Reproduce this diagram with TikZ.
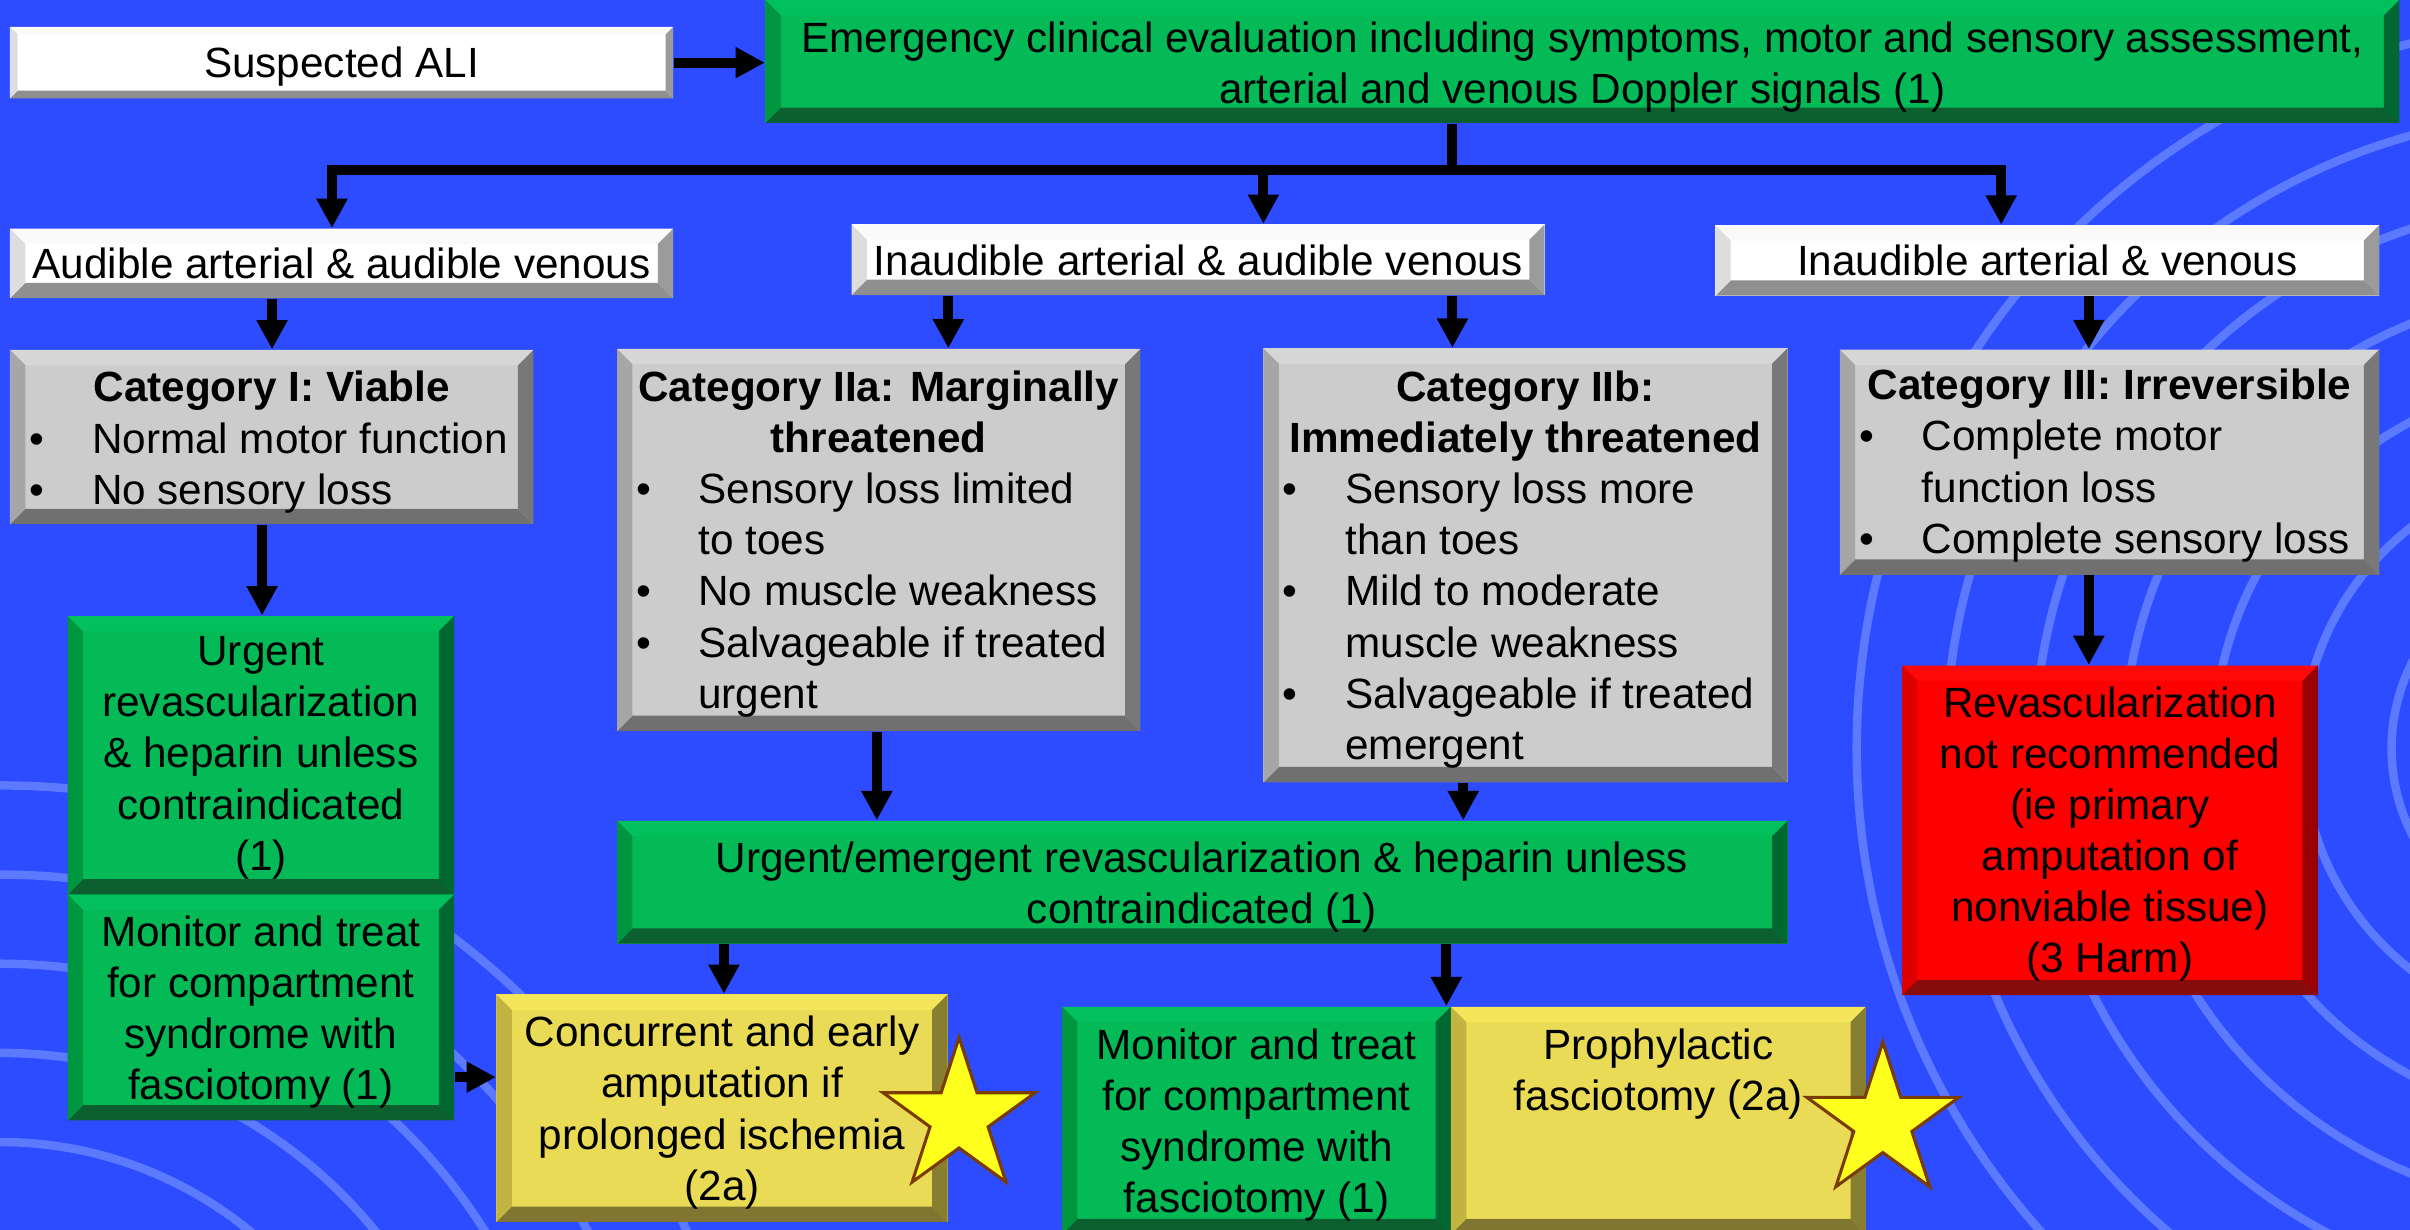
\documentclass[tikz,border=0pt]{standalone}
\usepackage{fontspec}
\setmainfont{Liberation Sans}
\usetikzlibrary{arrows.meta,shapes.geometric,fit}

\definecolor{bgblue}{RGB}{45,75,255}
\definecolor{arcblue}{RGB}{92,122,255}
\definecolor{whface}{RGB}{255,255,255}
\definecolor{whtop}{RGB}{250,250,250}
\definecolor{whleft}{RGB}{221,221,221}
\definecolor{whright}{RGB}{155,155,155}
\definecolor{whbot}{RGB}{143,143,143}
\definecolor{gyface}{RGB}{204,204,204}
\definecolor{gytop}{RGB}{214,214,214}
\definecolor{gyleft}{RGB}{166,166,166}
\definecolor{gyright}{RGB}{120,120,120}
\definecolor{gybot}{RGB}{112,112,112}
\definecolor{gnface}{RGB}{4,186,86}
\definecolor{gntop}{RGB}{2,193,92}
\definecolor{gnleft}{RGB}{0,150,64}
\definecolor{gnright}{RGB}{0,104,48}
\definecolor{gnbot}{RGB}{12,96,48}
\definecolor{ylface}{RGB}{233,219,85}
\definecolor{yltop}{RGB}{244,229,90}
\definecolor{ylleft}{RGB}{194,180,64}
\definecolor{ylright}{RGB}{136,126,48}
\definecolor{ylbot}{RGB}{128,118,50}
\definecolor{rdface}{RGB}{255,0,0}
\definecolor{rdtop}{RGB}{255,8,8}
\definecolor{rdleft}{RGB}{221,0,0}
\definecolor{rdright}{RGB}{153,0,0}
\definecolor{rdbot}{RGB}{136,12,12}
\definecolor{starfill}{RGB}{255,255,30}
\definecolor{starline}{RGB}{122,60,0}

% bevelled box: [bevel]{name}{x1}{y1}{x2}{y2}{colour prefix}
\newcommand\bbox[7][10]{%
  \fill[#7face] (#3,#4) rectangle (#5,#6);
  \fill[#7top] (#3,#4) -- (#5,#4) -- (#5-#1,#4+#1) -- (#3+#1,#4+#1) -- cycle;
  \fill[#7bot] (#3,#6) -- (#5,#6) -- (#5-#1,#6-#1) -- (#3+#1,#6-#1) -- cycle;
  \fill[#7left] (#3,#4) -- (#3+#1,#4+#1) -- (#3+#1,#6-#1) -- (#3,#6) -- cycle;
  \fill[#7right] (#5,#4) -- (#5-#1,#4+#1) -- (#5-#1,#6-#1) -- (#5,#6) -- cycle;
  \node[fit={(#3,#4) (#5,#6)}, inner sep=0pt, draw=none] (#2) {};
}
% centred lines: {name}{x}{first baseline}{lines}
\newcommand\ctext[4]{%
  \foreach \lbl [count=\i from 0] in {#4} {\node[txt, anchor=base] (#1-\i) at (#2,#3+\i*33.3) {\lbl};}}
% bullet item: {name}{bullet x}{text x}{first baseline}{lines}
\newcommand\btext[5]{%
  \node[txt, anchor=base] (#1-b) at (#2,#4) {\textbullet};
  \foreach \lbl [count=\i from 0] in {#5} {\node[txt, anchor=base west] (#1-\i) at (#3,#4+\i*33.3) {\lbl};}}

\begin{document}
\begin{tikzpicture}[x=0.5pt, y=-0.5pt,
  txt/.style={font=\fontsize{13.75pt}{16.65pt}\selectfont, inner sep=0pt, text=black},
  conn/.style={line width=3.25pt, draw=black},
  arr/.style={conn, -{Triangle[length=9.5pt,width=9.5pt]}},
  arcline/.style={draw=arcblue, line width=2.75pt},
  starsty/.style={star, star points=5, star point ratio=2.618, minimum size=52pt, inner sep=0pt, fill=starfill, draw=starline, line width=1pt}]
\useasboundingbox (0,0) rectangle (1568,800);
\fill[bgblue] (0,0) rectangle (1568,800);
\begin{scope}
  \clip (0,0) rectangle (1568,800);
  \foreach \r in {257,315,373,431,489} \draw[arcline] (0,1000) circle[radius=\r];
  \foreach \r in {124,182,240,298,356,414,472} \draw[arcline] (1680,487) circle[radius=\r];
\end{scope}

% boxes
\bbox[5]{ali}{6.5}{17.5}{438}{64}{wh}
\bbox{emerg}{498}{0}{1561}{80}{gn}
\bbox{aud}{6.5}{148.7}{438}{194}{wh}
\bbox{iaav}{554}{146}{1005}{192}{wh}
\bbox{iav}{1116}{146.5}{1548}{192.4}{wh}
\bbox{catI}{6.5}{227.7}{347}{341}{gy}
\bbox{catIIa}{401.5}{227}{742}{475.6}{gy}
\bbox{catIIb}{822}{226.6}{1163}{509}{gy}
\bbox{catIII}{1197}{227.5}{1548}{374}{gy}
\bbox{urgA}{44}{400.8}{295.5}{582}{gn}
\bbox{monA}{44}{582}{295.5}{729}{gn}
\bbox{urgB}{401.5}{534}{1163}{614}{gn}
\bbox{conc}{323}{647}{616.5}{795}{yl}
\bbox{monB}{691}{655}{944}{803}{gn}
\bbox{proph}{944}{655}{1214}{803}{yl}
\bbox{revasc}{1237.5}{433}{1508}{647.5}{rd}

% texts
\ctext{tali}{222.25}{50.5}{Suspected ALI}
\ctext{temerg}{1029.5}{34}{{Emergency clinical evaluation including symptoms, motor and sensory assessment,},{arterial and venous Doppler signals (1)}}
\ctext{taud}{222.25}{181.5}{Audible arterial \& audible venous}
\ctext{tiaav}{779.5}{179.5}{Inaudible arterial \& audible venous}
\ctext{tiav}{1332}{179.5}{Inaudible arterial \& venous}
\ctext{tcI}{176.75}{261.5}{\bfseries Category I: Viable}
\ctext{tcIIa}{571.75}{261}{\bfseries Category IIa: Marginally,\bfseries threatened}
\ctext{tcIIb}{992.5}{261}{\bfseries Category IIb:,\bfseries Immediately threatened}
\ctext{tcIII}{1372.5}{260}{\bfseries Category III: Irreversible}
\btext{bIa}{24}{59.5}{295}{Normal motor function}
\btext{bIb}{24}{59.5}{328.3}{No sensory loss}
\btext{bIIaa}{419}{454}{327.6}{Sensory loss limited,to toes}
\btext{bIIab}{419}{454}{394.2}{No muscle weakness}
\btext{bIIac}{419}{454}{427.5}{Salvageable if treated,urgent}
\btext{bIIba}{839.5}{875}{327.6}{Sensory loss more,than toes}
\btext{bIIbb}{839.5}{875}{394.2}{Mild to moderate,muscle weakness}
\btext{bIIbc}{839.5}{875}{460.8}{Salvageable if treated,emergent}
\btext{bIIIa}{1214.5}{1250}{293.3}{Complete motor,function loss}
\btext{bIIIb}{1214.5}{1250}{360}{Complete sensory loss}
\ctext{turgA}{169.75}{433}{Urgent,revascularization,\& heparin unless,contraindicated,{(1)}}
\ctext{tmonA}{169.75}{615.5}{Monitor and treat,for compartment,syndrome with,{fasciotomy (1)}}
\ctext{turgB}{782}{567.5}{Urgent/emergent revascularization \& heparin unless,{contraindicated (1)}}
\ctext{tconc}{469.75}{681}{Concurrent and early,amputation if,prolonged ischemia,{(2a)}}
\ctext{tmonB}{817.5}{689}{Monitor and treat,for compartment,syndrome with,{fasciotomy (1)}}
\ctext{tproph}{1079}{689}{Prophylactic,{fasciotomy (2a)}}
\ctext{trev}{1372.75}{466.5}{Revascularization,not recommended,{(ie primary},amputation of,{nonviable tissue)},{(3 Harm)}}

% connectors
\coordinate (bus) at (944.5,110.5);
\coordinate (xA) at (216,0);
\coordinate (xB) at (822,0);
\coordinate (xC) at (1302,0);
\coordinate (xD) at (177,0);
\coordinate (xE) at (617,0);
\coordinate (xF) at (945,0);
\coordinate (xG) at (1359,0);
\coordinate (xH) at (170.5,0);
\coordinate (xI) at (570.5,0);
\coordinate (xJ) at (952,0);
\coordinate (xK) at (471,0);
\coordinate (xL) at (941,0);
\coordinate (yM) at (0,700.8);

\draw[arr] (ali.east) -- (emerg.west |- ali.east);
\draw[conn] (emerg.south -| bus) -- (bus);
\draw[arr] (bus) -| (aud.north -| xA);
\draw[arr] (bus -| xB) -- (iaav.north -| xB);
\draw[arr] (bus) -| (iav.north -| xC);
\draw[arr] (aud.south -| xD) -- (catI.north -| xD);
\draw[arr] (iaav.south -| xE) -- (catIIa.north -| xE);
\draw[arr] (iaav.south -| xF) -- (catIIb.north -| xF);
\draw[arr] (iav.south -| xG) -- (catIII.north -| xG);
\draw[arr] (catI.south -| xH) -- (urgA.north -| xH);
\draw[arr] (catIIa.south -| xI) -- (urgB.north -| xI);
\draw[arr] (catIIb.south -| xJ) -- (urgB.north -| xJ);
\draw[arr] (catIII.south -| xG) -- (revasc.north -| xG);
\draw[arr] (urgB.south -| xK) -- (conc.north -| xK);
\draw[arr] (urgB.south -| xL) -- (monB.north -| xL);
\draw[arr] (monA.east |- yM) -- (conc.west |- yM);

% stars
\node[starsty] (star1) at (624,727) {};
\node[starsty] (star2) at (1225,730) {};
\end{tikzpicture}
\end{document}
